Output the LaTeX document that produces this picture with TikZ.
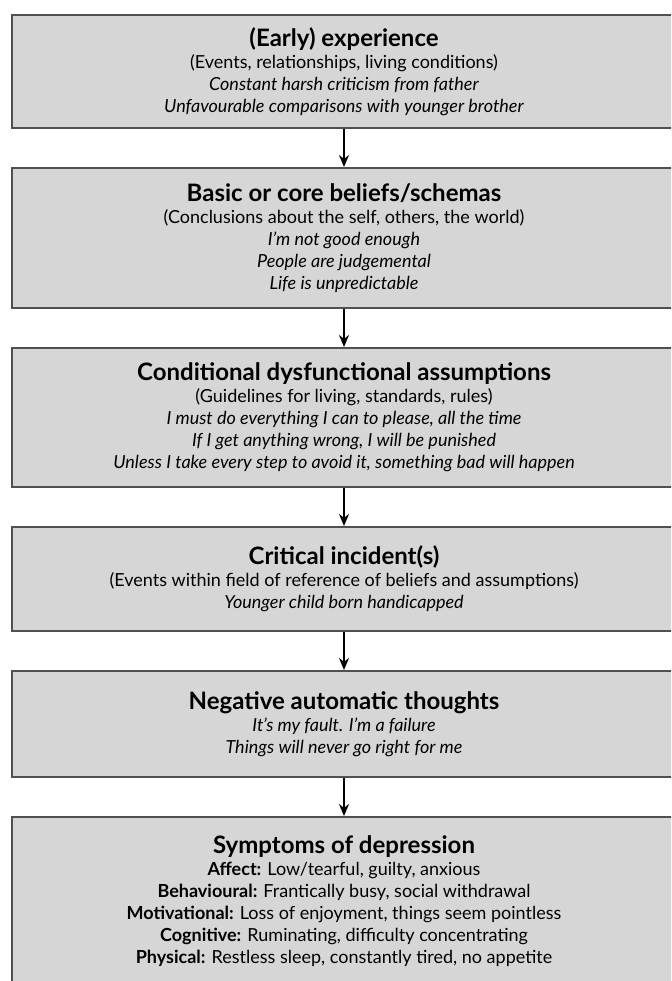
\documentclass[tikz,border=0pt]{standalone}
\usepackage{fontspec}
\setmainfont{Lato}
\usetikzlibrary{arrows.meta}
\definecolor{BoxGray}{RGB}{214,214,214}
\definecolor{EdgeGray}{RGB}{80,80,80}

\tikzset{
  stage/.style={draw=EdgeGray, line width=2pt, fill=BoxGray, minimum width=664pt,
    inner sep=0pt, align=center, font=\fontsize{18}{22}\selectfont},
  flow/.style={-{Stealth[length=12pt, width=10pt]}, line width=1.8pt},
}
\newcommand{\heading}[1]{{\fontsize{24}{26}\selectfont\bfseries #1}}

\begin{document}
\begin{tikzpicture}[x=1pt, y=-1pt]
  \useasboundingbox (0,0) rectangle (671,981);
  \clip (0,0) rectangle (671,981);

  % Stages of the model
  \node[stage, minimum height=113pt] (early) at (344,71.5) {%
    \heading{(Early) experience}\\
    (Events, relationships, living conditions)\\
    \textit{Constant harsh criticism from father}\\
    \textit{Unfavourable comparisons with younger brother}};
  \node[stage, minimum height=140pt] (core) at (344,238) {%
    \heading{Basic or core beliefs/schemas}\\
    (Conclusions about the self, others, the world)\\
    \textit{I'm not good enough}\\
    \textit{People are judgemental}\\
    \textit{Life is unpredictable}};
  \node[stage, minimum height=139pt] (assume) at (344,417.5) {%
    \heading{Conditional dysfunctional assumptions}\\
    (Guidelines for living, standards, rules)\\
    \textit{I must do everything I can to please, all the time}\\
    \textit{If I get anything wrong, I will be punished}\\
    \textit{Unless I take every step to avoid it, something bad will happen}};
  \node[stage, minimum height=104pt] (incident) at (344,579) {%
    \heading{Critical incident(s)}\\
    (Events within field of reference of beliefs and assumptions)\\
    \textit{Younger child born handicapped}};
  \node[stage, minimum height=106pt] (nat) at (344,724) {%
    \heading{Negative automatic thoughts}\\
    \textit{It's my fault. I'm a failure}\\
    \textit{Things will never go right for me}};
  \node[stage, minimum height=169pt] (symptoms) at (344,901.5) {%
    \heading{Symptoms of depression}\\
    \textbf{Affect:} Low/tearful, guilty, anxious\\
    \textbf{Behavioural:} Frantically busy, social withdrawal\\
    \textbf{Motivational:} Loss of enjoyment, things seem pointless\\
    \textbf{Cognitive:} Ruminating, difficulty concentrating\\
    \textbf{Physical:} Restless sleep, constantly tired, no appetite};

  % Arrows between stages
  \draw[flow] (early.south) -- (core.north);
  \draw[flow] (core.south) -- (assume.north);
  \draw[flow] (assume.south) -- (incident.north);
  \draw[flow] (incident.south) -- (nat.north);
  \draw[flow] (nat.south) -- (symptoms.north);
\end{tikzpicture}
\end{document}
